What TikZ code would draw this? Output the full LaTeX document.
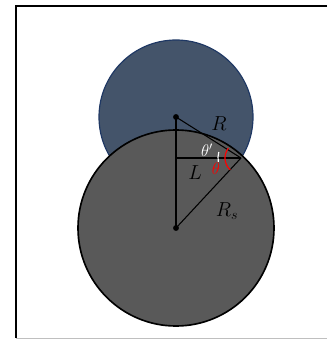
\documentclass[tikz,border=0pt]{standalone}
\usepackage{amsmath,amssymb}
\usepackage{xcolor}
\usetikzlibrary{calc}
\definecolor{capblue}{HTML}{44546A}
\definecolor{capedge}{HTML}{1F3864}
\definecolor{dropgray}{HTML}{595959}
\begin{document}
\begin{tikzpicture}[
    x=0.03cm, y=0.03cm,
    seg/.style={draw, line width=0.9pt},
    lbl/.style={font=\fontsize{18}{21}\selectfont, inner sep=0pt},
    ang/.style={font=\fontsize{14}{16}\selectfont, inner sep=0pt},
    dot/.style={circle, fill=black, inner sep=0pt, minimum size=5pt},
]
\useasboundingbox (0,0) rectangle (327,339);

% frame
\draw[line width=1.4pt] (327,333) -- (16,333) -- (16,1);
\draw[gray!50, line width=0.8pt] (16,1) -- (327,1);

% circles
\coordinate (cs) at (176,222);
\coordinate (cb) at (176,111);
\filldraw[fill=capblue, draw=capedge, line width=1pt] (cs) circle (77);
\filldraw[fill=dropgray, draw=black, line width=1.4pt] (cb) circle (98);

% geometry
\coordinate (p) at (241,181);
\coordinate (foot) at (176,181);
\draw[seg] (cs) -- (p);
\draw[seg] (cs) -- (cb);
\draw[seg] (foot) -- (p);
\draw[seg] (cb) -- (p);
\node[dot] (ds) at (cs) {};
\node[dot] (db) at (cb) {};

% angles
\draw[red, line width=1pt] ($(p)+(142:16)$) arc (142:228:16);
\draw[white, line width=1pt] ($(p)+(165:23)$) arc (165:190:23);

% labels
\node[lbl] (lR) at (219,215) {$R$};
\node[lbl] (lL) at (195,166) {$L$};
\node[lbl] (lRs) at (227,128) {$R_s$};
\node[ang, text=white] (lth2) at (207,189) {$\theta'$};
\node[ang, text=red] (lth) at (216,170) {$\theta$};
\end{tikzpicture}
\end{document}
